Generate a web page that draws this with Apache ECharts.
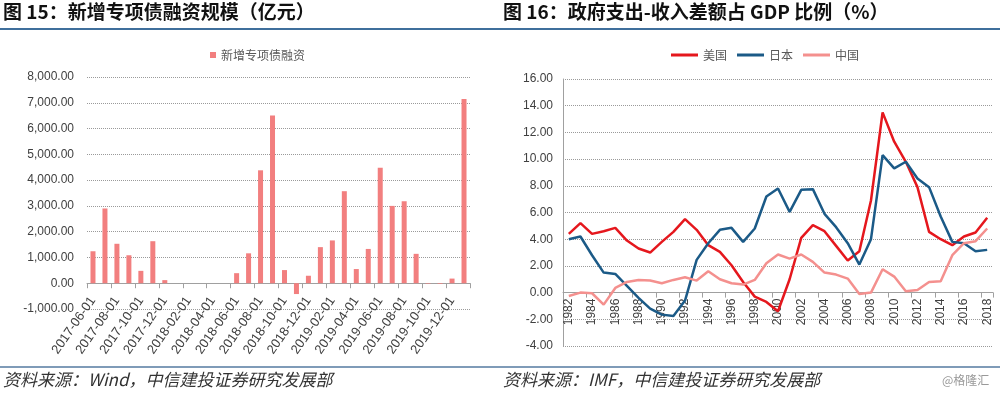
<!DOCTYPE html>
<html>
<head>
<meta charset="utf-8">
<script src="https://cdn.jsdelivr.net/npm/echarts@6/dist/echarts.min.js"></script>
<style>
html,body{margin:0;padding:0;background:#fff;}
#c{width:1000px;height:395px;}
</style>
</head>
<body>
<div id="c"></div>
<script>
// ---- Left chart data ----
const monthCats = ['2017-06-01','2017-07-01','2017-08-01','2017-09-01','2017-10-01','2017-11-01','2017-12-01',
  '2018-01-01','2018-02-01','2018-03-01','2018-04-01','2018-05-01','2018-06-01','2018-07-01','2018-08-01','2018-09-01',
  '2018-10-01','2018-11-01','2018-12-01','2019-01-01','2019-02-01','2019-03-01','2019-04-01','2019-05-01','2019-06-01',
  '2019-07-01','2019-08-01','2019-09-01','2019-10-01','2019-11-01','2019-12-01','2020-01-01'];
const specialBond = [1240, 2900, 1530, 1085, 480, 1630, 120,
  null, null, null, null, null, 390, 1160, 4380, 6510,
  510, -420, 290, 1400, 1660, 3570, 550, 1330, 4480,
  3000, 3180, 1140, -20, -25, 180, 7150];
const leftLegend = '新增专项债融资';

// ---- Right chart data ----
const years = [];
for (let y = 1982; y <= 2018; y++) years.push(String(y));
const usa = [4.4, 5.2, 4.4, 4.6, 4.85, 3.9, 3.3, 3.0, 3.8, 4.55, 5.5, 4.7, 3.55, 3.05, 2.05, 0.8, -0.3, -0.7, -1.4,
  1.0, 4.1, 5.05, 4.6, 3.5, 2.4, 3.1, 6.9, 13.5, 11.3, 9.8, 7.9, 4.55, 4.0, 3.55, 4.2, 4.5, 5.6];
const japan = [4.0, 4.2, 2.8, 1.5, 1.4, 0.5, -0.4, -1.2, -1.65, -1.75, -0.6, 2.45, 3.7, 4.7, 4.85, 3.8, 4.8, 7.2, 7.8,
  6.05, 7.7, 7.75, 5.9, 4.9, 3.7, 2.1, 4.0, 10.3, 9.3, 9.8, 8.55, 7.9, 5.7, 3.8, 3.7, 3.1, 3.2];
const china = [-0.25, 0.0, -0.05, -0.9, 0.35, 0.8, 0.95, 0.9, 0.7, 0.95, 1.15, 0.9, 1.6, 1.0, 0.7, 0.6, 0.95, 2.2, 2.85,
  2.55, 2.85, 2.3, 1.5, 1.35, 1.05, -0.1, 0.0, 1.75, 1.2, 0.1, 0.2, 0.8, 0.85, 2.8, 3.7, 3.85, 4.8];
const seriesNames = ['美国', '日本', '中国'];

const titleL = '图 15：新增专项债融资规模（亿元）';
const titleR = '图 16：政府支出-收入差额占 GDP 比例（%）';
const srcL = '资料来源：Wind，中信建投证券研究发展部';
const srcR = '资料来源：IMF，中信建投证券研究发展部';
const watermark = '@格隆汇';

// axis ranges
const yL = {min: -1000, max: 8000, interval: 1000};
const yR = {min: -4, max: 16, interval: 2};
// plot boxes
const gL = {left: 87, top: 77, width: 383, height: 232};
const gR = {left: 563, top: 79, width: 430, height: 267};
// shift each category axis up so it sits on the zero value line
const offL = -gL.height * (0 - yL.min) / (yL.max - yL.min);
const offR = -gR.height * (0 - yR.min) / (yR.max - yR.min);

const latin = '"Liberation Sans", Arial, sans-serif';
const cjk = '"Noto Sans CJK SC", sans-serif';
const gridLine = {show: true, lineStyle: {color: '#9a9a9a', type: [1, 1], width: 1}};

const chart = echarts.init(document.getElementById('c'), null, {renderer: 'canvas'});
chart.setOption({
  animation: false,
  backgroundColor: '#ffffff',
  graphic: [
    {type: 'text', left: 3, top: 2, style: {text: titleL, font: 'bold 19px ' + cjk, fill: '#111'}},
    {type: 'text', left: 503, top: 2, style: {text: titleR, font: 'bold 19px ' + cjk, fill: '#111'}},
    {type: 'rect', shape: {x: 0, y: 28, width: 1000, height: 2}, style: {fill: '#3f6f9c'}},
    {type: 'rect', shape: {x: 0, y: 366, width: 1000, height: 2}, style: {fill: '#7f9bb8'}},
    {type: 'text', left: 3, top: 371, style: {text: srcL, font: 'italic 17px ' + cjk, fill: '#333'}},
    {type: 'text', left: 503, top: 371, style: {text: srcR, font: 'italic 17px ' + cjk, fill: '#333'}},
    {type: 'text', left: 942, top: 374, style: {text: watermark, font: '12px ' + cjk, fill: '#999'}}
  ],
  legend: [
    {data: [leftLegend], left: 205, top: 44, icon: 'rect', itemWidth: 6, itemHeight: 6, itemGap: 4,
     textStyle: {fontFamily: cjk, fontSize: 12, color: '#595959'}},
    {data: seriesNames, left: 666, top: 44, icon: 'rect', itemWidth: 27, itemHeight: 3, itemGap: 10,
     textStyle: {fontFamily: cjk, fontSize: 12, color: '#595959'}}
  ],
  grid: [gL, gR],
  xAxis: [
    {type: 'category', gridIndex: 0, data: monthCats, boundaryGap: true, position: 'bottom', offset: offL,
     axisLine: {onZero: false, lineStyle: {color: '#a0a0a0'}},
     axisTick: {show: true, interval: 1, length: 5, lineStyle: {color: '#a0a0a0'}},
     axisLabel: {interval: 1, rotate: 55, fontFamily: latin, fontSize: 13, color: '#404040', margin: 15}},
    {type: 'category', gridIndex: 1, data: years, boundaryGap: true, position: 'bottom', offset: offR,
     axisLine: {onZero: false, lineStyle: {color: '#a0a0a0'}},
     axisTick: {show: true, interval: 1, length: 5, lineStyle: {color: '#a0a0a0'}},
     axisLabel: {interval: 1, rotate: 90, fontFamily: latin, fontSize: 12, color: '#404040', margin: 6}}
  ],
  yAxis: [
    {type: 'value', gridIndex: 0, min: yL.min, max: yL.max, interval: yL.interval,
     axisLine: {show: false}, axisTick: {show: false}, splitLine: gridLine,
     axisLabel: {fontFamily: latin, fontSize: 12, color: '#404040', margin: 13,
       formatter: v => v.toLocaleString('en-US', {minimumFractionDigits: 2, maximumFractionDigits: 2})}},
    {type: 'value', gridIndex: 1, min: yR.min, max: yR.max, interval: yR.interval,
     axisLine: {show: true, onZero: false, lineStyle: {color: '#a0a0a0'}}, axisTick: {show: false}, splitLine: gridLine,
     axisLabel: {fontFamily: latin, fontSize: 12, color: '#404040', margin: 10,
       formatter: v => v.toFixed(2)}}
  ],
  series: [
    {name: leftLegend, type: 'bar', xAxisIndex: 0, yAxisIndex: 0, data: specialBond, barWidth: 5,
     itemStyle: {color: '#f27f7f'}},
    {name: seriesNames[0], type: 'line', xAxisIndex: 1, yAxisIndex: 1, data: usa, symbol: 'none',
     lineStyle: {color: '#e5171d', width: 2.5}, itemStyle: {color: '#e5171d'}},
    {name: seriesNames[1], type: 'line', xAxisIndex: 1, yAxisIndex: 1, data: japan, symbol: 'none',
     lineStyle: {color: '#1b5a87', width: 2.5}, itemStyle: {color: '#1b5a87'}},
    {name: seriesNames[2], type: 'line', xAxisIndex: 1, yAxisIndex: 1, data: china, symbol: 'none',
     lineStyle: {color: '#f4908e', width: 2.5}, itemStyle: {color: '#f4908e'}}
  ]
});
</script>
</body>
</html>
